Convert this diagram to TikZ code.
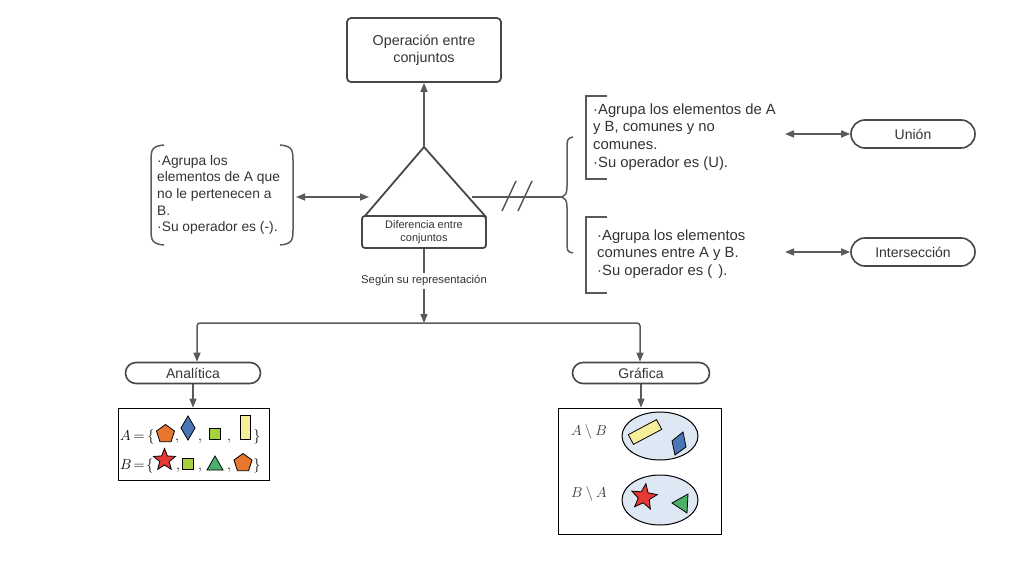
\documentclass[tikz,border=0pt]{standalone}
\usepackage[no-math]{fontspec}
\setmainfont{Liberation Sans}
\usetikzlibrary{arrows.meta,shapes.geometric,shapes.misc}
\definecolor{ln}{HTML}{5A5A5A}
\definecolor{bd}{HTML}{474747}
\definecolor{tc}{HTML}{333333}
\definecolor{cor}{HTML}{E8772E}
\definecolor{cbl}{HTML}{4A76B5}
\definecolor{cgr}{HTML}{A4D13C}
\definecolor{cye}{HTML}{F7EE9C}
\definecolor{cre}{HTML}{E53935}
\definecolor{ctr}{HTML}{4CAF6A}
\definecolor{cel}{HTML}{DDE8F4}
\begin{document}
\begin{tikzpicture}[x=1pt,y=-1pt,
  conn/.style={draw=ln,line width=1.5pt},
  tip/.style={-{Triangle[length=9pt,width=7pt]}},
  dtip/.style={{Triangle[length=9pt,width=7pt]}-{Triangle[length=9pt,width=7pt]}},
  box/.style={draw=bd,line width=1.8pt,rounded corners=4pt,align=center,inner sep=0,text=tc},
  pill/.style={draw=bd,line width=1.6pt,rounded rectangle,inner sep=0,text=tc,font=\fontsize{14}{16}\selectfont},
  txt/.style={align=left,inner sep=0,text=tc,font=\fontsize{13.8}{16.6}\selectfont},
  rtxt/.style={align=left,inner sep=0,text=tc,font=\fontsize{14.8}{17.8}\selectfont},
  shp/.style={draw=black,line width=0.8pt},
  mth/.style={anchor=base,inner sep=0,font=\fontsize{15}{18}\selectfont}
]
\useasboundingbox (0,0) rectangle (1019,578);

% top box
\node[box, minimum width=154pt, minimum height=64pt, font=\fontsize{14.3}{17}\selectfont] (op) at (424,50) {Operación entre\\conjuntos};

% triangle
\coordinate (apex) at (424,147);
\coordinate (bl) at (364,217);
\coordinate (br) at (486,217);
\draw[draw=bd,line width=1.8pt,line join=round] (apex) -- (br) -- (bl) -- cycle;
\node[box, fill=white, minimum width=124pt, minimum height=32pt, rounded corners=3pt, font=\fontsize{11}{13.5}\selectfont] (dif) at (424,232) {Diferencia entre\\conjuntos};
\draw[conn,tip] (apex) -- (op.south);

% left group
\node[txt,anchor=west] (lt) at (157,195) {·Agrupa los\\elementos de A que\\no le pertenecen a\\B.\\·Su operador es (-).};
\draw[conn] (164,145) .. controls (152,146) and (151,150) .. (151,160) -- (151,230) .. controls (151,240) and (152,244) .. (164,245);
\draw[conn] (280,145) .. controls (292,146) and (293,150) .. (293,160) -- (293,230) .. controls (293,240) and (292,244) .. (280,245);
\coordinate (la) at (296,197);
\coordinate (lb) at (369,197);
\draw[conn,dtip] (la) -- (lb);

% right line with slashes and brace
\coordinate (tr) at (472,197);
\coordinate (bt) at (562,197);
\draw[conn] (tr) -- (bt);
\draw[conn] (502,211) -- (516,181);
\draw[conn] (518,211) -- (532,181);
\draw[conn] (573,137) .. controls (567,138) and (567,141) .. (567,148) -- (567,186) .. controls (567,194) and (565,196) .. (562,197) .. controls (565,198) and (567,200) .. (567,208) -- (567,243) .. controls (567,250) and (567,252) .. (573,253);

% upper right text
\draw[conn] (607,96) -- (586,96) -- (586,179) -- (607,179);
\node[rtxt,anchor=west] (ut) at (593,137) {·Agrupa los elementos de A\\y B, comunes y no\\comunes.\\·Su operador es (U).};
% lower right text
\draw[conn] (607,217) -- (586,217) -- (586,293) -- (607,293);
\node[rtxt,anchor=west] (lwt) at (597,254) {·Agrupa los elementos\\comunes entre A y B.\\·Su operador es (\hspace{6pt}).};

% pills right
\node[pill, minimum width=124pt, minimum height=28pt] (uni) at (913,134) {Unión};
\node[pill, minimum width=124pt, minimum height=28pt] (int) at (913,252) {Intersección};
\coordinate (ua) at (785,134);
\coordinate (ia) at (785,252);
\draw[conn,dtip] (ua) -- (uni.west);
\draw[conn,dtip] (ia) -- (int.west);

% down connector
\node[font=\fontsize{11.3}{13}\selectfont, fill=white, inner sep=2pt, text=tc] (seg) at (424,281) {Según su representación};
\draw[conn] (dif.south) -- (seg.north);
\coordinate (jc) at (424,323);
\draw[conn,tip] (seg.south) -- (jc);
\coordinate (jl) at (197,323);
\coordinate (jr) at (640,323);
\node[pill, minimum width=135pt, minimum height=21pt] (ana) at (193,373) {Analítica};
\node[pill, minimum width=137pt, minimum height=21pt] (gra) at (641,373) {Gráfica};
\draw[conn,tip,rounded corners=3pt] (jc) -- (jl) -- (jl |- ana.north);
\draw[conn,tip,rounded corners=3pt] (jc) -- (jr) -- (jr |- gra.north);

% analytic box
\node[draw=black, line width=0.8pt, minimum width=151pt, minimum height=72pt, inner sep=0] (abox) at (193.5,444) {};
\draw[conn,tip,line width=1.2pt] (ana.south) -- (ana.south |- abox.north);
\node[mth,anchor=base west] (ra) at (120,440) {$A$};
\node[mth] (ea) at (139,440) {$=$};
\node[mth] (ba) at (151,440) {$\{$};
\node[shp, regular polygon, regular polygon sides=5, minimum size=19pt, inner sep=0, fill=cor] (p1) at (165.5,434) {};
\node[mth] (c1) at (177,440) {$,$};
\draw[shp, fill=cbl] (188,416) -- (195,428) -- (188,440) -- (181,428) -- cycle;
\node[mth] (c2) at (200,440) {$,$};
\draw[shp, fill=cgr] (209.5,428.5) rectangle (220.5,439.5);
\node[mth] (c3) at (229,440) {$,$};
\draw[shp, fill=cye] (240,415) rectangle (250,439);
\node[mth] (cb1) at (257,440) {$\}$};

\node[mth,anchor=base west] (rb) at (120,469) {$B$};
\node[mth] (eb) at (139,469) {$=$};
\node[mth] (bb) at (150,469) {$\{$};
\node[shp, star, star points=5, star point ratio=2.3, minimum size=23pt, inner sep=0, fill=cre] (s1) at (164.5,460) {};
\node[mth] (d1) at (178,469) {$,$};
\draw[shp, fill=cgr] (182.5,458) rectangle (193.5,469);
\node[mth] (d2) at (200,469) {$,$};
\draw[shp, fill=ctr] (207,470) -- (223,470) -- (215,456) -- cycle;
\node[mth] (d3) at (229,469) {$,$};
\node[shp, regular polygon, regular polygon sides=5, minimum size=19pt, inner sep=0, fill=cor] (p2) at (243,463) {};
\node[mth] (cb2) at (257,469) {$\}$};

% graphic box
\node[draw=black, line width=0.8pt, minimum width=163pt, minimum height=126pt, inner sep=0] (gbox) at (639.5,471) {};
\draw[conn,tip,line width=1.2pt] (gra.south) -- (gra.south |- gbox.north);
\node[font=\fontsize{14}{16}\selectfont, text=tc] (lab1) at (589,432) {$A\setminus B$};
\node[font=\fontsize{14}{16}\selectfont, text=tc] (lab2) at (589,494) {$B\setminus A$};
\node[ellipse, draw=black, line width=1pt, fill=cel, minimum width=76pt, minimum height=48pt] (e1) at (660,436) {};
\node[ellipse, draw=black, line width=1pt, fill=cel, minimum width=76pt, minimum height=50pt] (e2) at (660,500) {};
\node[shp, fill=cye, minimum width=32pt, minimum height=11pt, inner sep=0, rotate=28] (yr) at (645,432) {};
\draw[shp, fill=cbl] (672,441) -- (683,432) -- (686,447) -- (675,455) -- cycle;
\node[shp, star, star points=5, star point ratio=2.3, minimum size=27pt, inner sep=0, fill=cre, rotate=-8] (s2) at (644,497) {};
\draw[shp, fill=ctr] (672,503) -- (688,494) -- (687,513) -- cycle;
\end{tikzpicture}
\end{document}
